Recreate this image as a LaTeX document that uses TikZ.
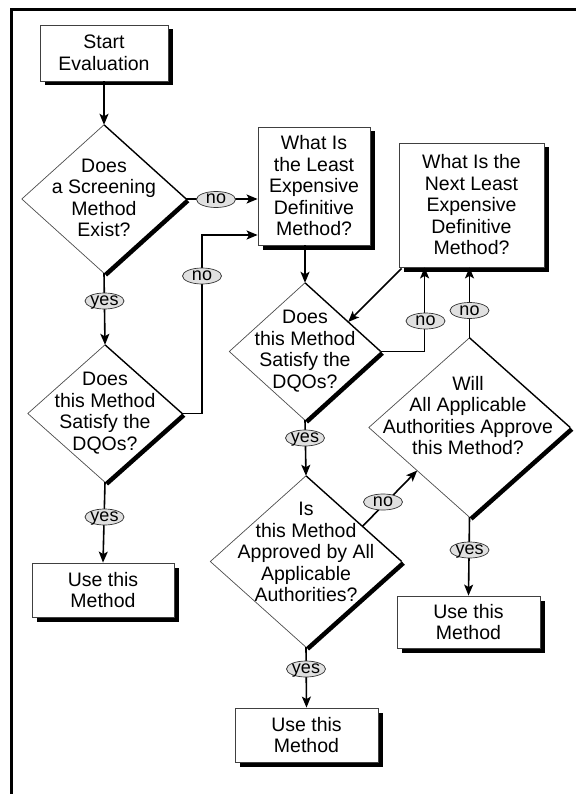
\documentclass[tikz,border=0pt]{standalone}
\usepackage{fontspec}
\setmainfont{Liberation Sans}
\usetikzlibrary{shapes.geometric,shadows,arrows.meta,calc}
\newcommand\DiaEdges[1]{%
  \draw[line width=0.7pt, black!70] (#1.north) -- (#1.west) -- (#1.south);
  \draw[line width=1.4pt] (#1.north) -- (#1.east);
  \draw[line width=4.5pt] ([shift={(1.6,1.6)}]#1.east) -- ([shift={(1.6,1.6)}]#1.south);
}
\begin{document}
\begin{tikzpicture}[x=1pt,y=-1pt,
  txt/.style={font=\fontsize{19.5}{21.5}\selectfont, align=center, inner sep=0pt},
  box/.style={draw=black!75, line width=0.8pt, fill=white, rectangle, inner sep=0pt,
    align=center, font=\fontsize{19.5}{21.5}\selectfont,
    drop shadow={shadow xshift=4.5pt, shadow yshift=-4.5pt, fill=black, opacity=1}},
  dia/.style={diamond, inner sep=0pt, draw=none},
  lab/.style={ellipse, draw=black!80, line width=0.7pt, fill=black!12,
    minimum width=39pt, minimum height=16pt, inner xsep=-2pt, inner ysep=0pt,
    text height=9pt, text depth=0pt, font=\fontsize{18}{18}\selectfont},
  arr/.style={line width=1.6pt, -{Stealth[length=11pt,width=9pt,inset=2.5pt]}},
]
\useasboundingbox (0,0) rectangle (576,794);
\draw[line width=2.6pt] (11.3,794) -- (11.3,9.5) -- (576,9.5);

% boxes and diamonds
\node[box, minimum width=128pt, minimum height=56pt] (start) at (104,53) {Start\\Evaluation};
\node[dia, minimum width=164pt, minimum height=148pt] (d1) at (104,199) {};
\node[txt] (t1) at (104,198) {Does\\a Screening\\Method\\Exist?};
\node[box, minimum width=112pt, minimum height=118pt] (le) at (314,186) {What Is\\the Least\\Expensive\\Definitive\\Method?};
\node[dia, minimum width=154pt, minimum height=137pt] (d2) at (105,413.5) {};
\node[txt] (t2) at (105,413) {Does\\this Method\\Satisfy the\\DQOs?};
\node[box, minimum width=142pt, minimum height=54pt] (u1) at (103,590) {Use this\\Method};
\node[dia, minimum width=151pt, minimum height=137pt] (d3) at (305,351.5) {};
\node[txt] (t3) at (305,351) {Does\\this Method\\Satisfy the\\DQOs?};
\node[box, minimum width=145pt, minimum height=124pt] (nl) at (471.5,205) {What Is the\\Next Least\\Expensive\\Definitive\\Method?};
\node[dia, minimum width=201pt, minimum height=179pt] (d4) at (469.5,427.5) {};
\node[txt] (t4) at (468,415.5) {Will\\All Applicable\\Authorities Approve\\this Method?};
\node[box, minimum width=143pt, minimum height=52pt] (u2) at (468.5,622) {Use this\\Method};
\node[dia, minimum width=191pt, minimum height=171pt] (d5) at (306,561.5) {};
\node[txt] (t5) at (306,552) {Is\\this Method\\Approved by All\\Applicable\\Authorities?};
\node[box, minimum width=143pt, minimum height=54pt] (u3) at (306.5,735) {Use this\\Method};

\DiaEdges{d1}
\DiaEdges{d2}
\DiaEdges{d3}
\DiaEdges{d4}
\DiaEdges{d5}

% connectors
\coordinate (k2) at (202,235);
\coordinate (k3) at ($(nl.south west)+(26,0)$);
\draw[arr] (start.south) -- (d1.north);
\draw[arr] (d1.east) -- (le.west |- d1.east);
\draw[arr] (d1.south) -- (d2.north);
\draw[arr] (d2.east) -| (k2) -- (le.west |- k2);
\draw[arr] (d2.south) -- (u1.north);
\draw[arr] (d3.north |- le.south) -- (d3.north);
\draw[arr] (d3.east) -| (k3);
\draw[arr] ($(nl.south west)+(3,1)$) -- ($(d3.north)!0.57!(d3.east)$);
\draw[arr] (d3.south) -- (d5.north);
\draw[arr] (d5.south) -- (u3.north);
\draw[arr] ($(d5.north)!0.59!(d5.east)$) -- ($(d4.west)!0.48!(d4.south)$);
\draw[arr] (d4.north) -- (d4.north |- nl.south);
\draw[arr] (d4.south) -- (u2.north);

% labels
\node[lab] (y1) at (104.5,301) {yes};
\node[lab] (n1) at (216,199.5) {no};
\node[lab] (n2) at (202,276) {no};
\node[lab] (y2) at (104.5,517) {yes};
\node[lab] (y3) at (305,438) {yes};
\node[lab] (n3) at (425.5,321) {no};
\node[lab] (n4) at (469.5,310.5) {no};
\node[lab] (n5) at (383,502) {no};
\node[lab] (y5) at (306,669) {yes};
\node[lab] (y4) at (469.5,550) {yes};
\end{tikzpicture}
\end{document}
